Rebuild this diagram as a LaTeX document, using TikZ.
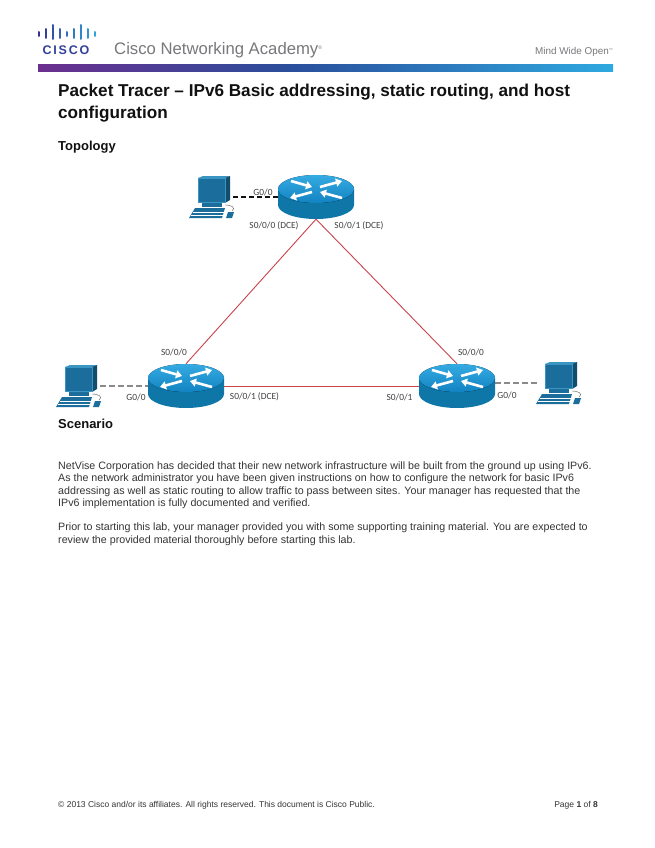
\documentclass[tikz,border=0pt]{standalone}
\usepackage{fontspec}
\usepackage{xcolor}
\usepackage{tikz}
\setmainfont{Liberation Sans}
\newfontfamily\logofont[LetterSpace=14]{Liberation Sans}
\newfontfamily\portfont{Carlito}
\usetikzlibrary{arrows.meta,positioning,calc}
\definecolor{ink}{HTML}{111111}
\definecolor{greytext}{HTML}{77787B}
\definecolor{logoblue}{HTML}{2FA3DC}
\definecolor{logodark}{HTML}{33308F}
\definecolor{barpurple}{HTML}{6B2F8F}
\definecolor{barblue}{HTML}{2A4E9B}
\definecolor{barcyan}{HTML}{2FA9E0}
\definecolor{routerlight}{HTML}{35ABE2}
\definecolor{routertop}{HTML}{1283C2}
\definecolor{routerside}{HTML}{0F76A8}
\definecolor{pcblue}{HTML}{1B6E9C}
\definecolor{pclight}{HTML}{3B95C2}
\definecolor{linkred}{HTML}{C8444A}
\definecolor{linkgrey}{HTML}{8A8A8A}
\tikzset{
  heading/.style={anchor=base west,inner sep=0pt,text=ink,font=\fontsize{13}{15}\selectfont\bfseries},
  titleline/.style={anchor=base west,inner sep=0pt,text=ink,font=\fontsize{17.15}{20}\selectfont\bfseries},
  bodyline/.style={anchor=base west,inner sep=0pt,text=ink!85,font=\fontsize{10.68}{12}\selectfont},
  footline/.style={inner sep=0pt,text=ink!85,font=\fontsize{8.5}{10}\selectfont},
  portlabel/.style={inner sep=0pt,text=ink!80,font=\portfont\fontsize{9.4}{10}\selectfont},
  routerbox/.style={minimum width=76pt,minimum height=44pt,inner sep=0pt},
  pcbox/.style={minimum width=42pt,minimum height=42pt,inner sep=0pt},
  redlink/.style={draw=linkred,line width=0.9pt},
  blacklan/.style={draw=ink,dash pattern=on 5pt off 3pt,line width=1.2pt},
  greylan/.style={draw=linkgrey,dash pattern=on 6pt off 3pt,line width=1.2pt},
  routerarrow/.style={white,line width=2.6pt,-{Triangle[length=6pt,width=8pt]}},
  routerpic/.pic={
    \fill[routerside] (-38,-8) -- (-38,8) arc[start angle=180,end angle=0,x radius=38,y radius=14]
      -- (38,-8) -- cycle;
    \fill[top color=routerlight,bottom color=routertop] (0,-8) ellipse[x radius=38,y radius=14];
    \foreach \ax/\ay/\bx/\by in {-25/-16/-4/-10, 4/-10/26/-16, -4/-5/-26/1, 26/1/4/-5}
      \draw[routerarrow] (\ax,\ay) -- (\bx,\by);
  },
  pcpic/.pic={
    \fill[pclight] (-14,-19) -- (-9,-21) -- (18,-21) -- (13,-19) -- cycle;
    \fill[pcblue!70!black] (13,-19) -- (18,-21) -- (18,3) -- (13,6) -- cycle;
    \draw[pclight,fill=pcblue,line width=1pt] (-14,-19) rectangle (13,5);
    \fill[pcblue] (-10,6) -- (10,6) -- (10,10) -- (-10,10) -- cycle;
    \fill[pcblue] (-17,11) -- (13,11) -- (10,21) -- (-23,21) -- cycle;
    \draw[white,line width=0.4pt] (-19,15) -- (12,15);
    \draw[white,line width=0.4pt] (-21,18) -- (11,18);
    \fill[pcblue] (16,15) -- (22,15) -- (20,21) -- (14,21) -- cycle;
    \draw[ink!70,line width=0.4pt] (13,8) .. controls (20,8) and (24,11) .. (20,14);
  }
}
\begin{document}
\begin{tikzpicture}[x=1pt,y=-1pt]
    \path[use as bounding box,fill=white] (0,0) rectangle (655,848);
    %logo and header
    \foreach \barx/\bartop/\barbot/\barmix in {39/32/36/0,46/29/38/15,53/25/39/30,60/29/38/45,67/32/36/55,74/29/38/65,81/25/39/75,88/29/38/90,95/32/36/100}
      \draw[logoblue!\barmix!logodark,line width=2pt,line cap=round] (\barx,\bartop) -- (\barx,\barbot);
    \node[inner sep=0pt,anchor=base west,text=logodark!85!logoblue,font=\logofont\fontsize{12.5}{14}\selectfont\bfseries] (ciscologo) at (42.5,54.5) {CISCO};
    \node[inner sep=0pt,anchor=base west,text=greytext,font=\fontsize{16.7}{18}\selectfont] (academy) at (114,55)
      {Cisco Networking Academy\raisebox{5pt}{\fontsize{5}{5}\selectfont®}};
    \node[inner sep=0pt,anchor=base east,text=greytext,font=\fontsize{9.9}{10}\selectfont] (mindwide) at (613,55)
      {Mind Wide Open\raisebox{3pt}{\fontsize{4}{4}\selectfont™}};
    \fill[left color=barpurple,right color=barblue] (38,65) rectangle (290,72);
    \fill[left color=barblue,right color=barcyan] (290,65) rectangle (613,72);
    %headings
    \node[titleline] (titleone) at (58,97) {Packet Tracer – IPv6 Basic addressing, static routing, and host};
    \node[titleline] (titletwo) at (58,119) {configuration};
    \node[heading] (topology) at (58,150) {Topology};
    %topology
    \node[routerbox] (rone) at (316,197) {};
    \node[routerbox] (rtwo) at (186,386) {};
    \node[routerbox] (rthree) at (457,386) {};
    \node[pcbox] (pcone) at (212,197) {};
    \node[pcbox] (pctwo) at (79,386) {};
    \node[pcbox] (pcthree) at (559,383) {};
    \draw[redlink] (rone.south) -- (rtwo.north);
    \draw[redlink] (rone.south) -- (rthree.north);
    \draw[redlink] (rtwo.east) -- (rthree.west);
    \draw[blacklan] (pcone.east) -- (rone.west);
    \draw[greylan] (pctwo.east) -- (rtwo.west);
    \draw[greylan] (rthree.east |- pcthree.west) -- (pcthree.west);
    \foreach \rname in {rone,rtwo,rthree}
      \pic at (\rname) {routerpic};
    \foreach \pname in {pcone,pctwo,pcthree}
      \pic at (\pname) {pcpic};
    \node[portlabel] (lone) at (263,192) {G0/0};
    \node[portlabel] (ltwo) at (274,226) {S0/0/0 (DCE)};
    \node[portlabel] (lthree) at (359,226) {S0/0/1 (DCE)};
    \node[portlabel] (lfour) at (174,352) {S0/0/0};
    \node[portlabel] (lfive) at (136,397) {G0/0};
    \node[portlabel] (lsix) at (254.5,397) {S0/0/1 (DCE)};
    \node[portlabel] (lseven) at (471,352) {S0/0/0};
    \node[portlabel] (leight) at (399.5,397) {S0/0/1};
    \node[portlabel] (lnine) at (507,395) {G0/0};
    %scenario text
    \node[heading] (scenario) at (58,428) {Scenario};
    \node[bodyline] (bodya) at (58,469.5) {NetVise Corporation has decided that their new network infrastructure will be built from the ground up using IPv6.};
    \node[bodyline] (bodyb) at (58,481.5) {As the network administrator you have been given instructions on how to configure the network for basic IPv6};
    \node[bodyline] (bodyc) at (58,494) {addressing as well as static routing to allow traffic to pass between sites. Your manager has requested that the};
    \node[bodyline] (bodyd) at (58,506) {IPv6 implementation is fully documented and verified.};
    \node[bodyline] (bodye) at (58,530.5) {Prior to starting this lab, your manager provided you with some supporting training material. You are expected to};
    \node[bodyline] (bodyf) at (58,543.5) {review the provided material thoroughly before starting this lab.};
    %footer
    \node[footline,anchor=base west] (footleft) at (58,807) {© 2013 Cisco and/or its affiliates. All rights reserved. This document is Cisco Public.};
    \node[footline,anchor=base east] (footright) at (598,807) {Page \textbf{1} of \textbf{8}};
  \end{tikzpicture}
\end{document}
